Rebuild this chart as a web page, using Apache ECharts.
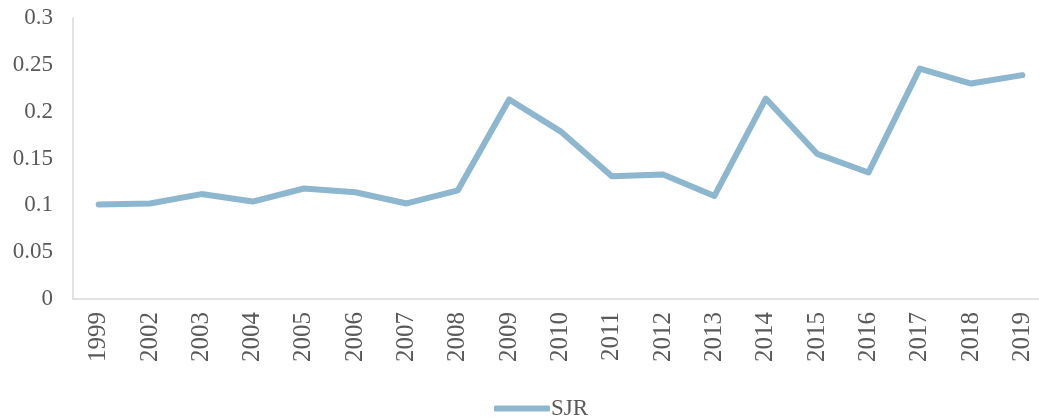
<!DOCTYPE html>
<html>
<head>
<meta charset="utf-8">
<script src="https://cdn.jsdelivr.net/npm/echarts@6/dist/echarts.min.js"></script>
<style>
    html, body {margin: 0; padding: 0; background: #fff;}
    #chart1 {width: 1039px; height: 419px;}
</style>
</head>
<body>
<div id="chart1"></div>
<script>
const years = ['1999', '2002', '2003', '2004', '2005', '2006', '2007', '2008', '2009', '2010',
    '2011', '2012', '2013', '2014', '2015', '2016', '2017', '2018', '2019'];
const sjr = [0.101, 0.102, 0.112, 0.104, 0.118, 0.114, 0.102, 0.116, 0.213, 0.179,
    0.131, 0.133, 0.110, 0.214, 0.155, 0.135, 0.246, 0.230, 0.239];

const font = '"Liberation Serif", "Times New Roman", serif';
const chart1 = echarts.init(document.getElementById('chart1'));
chart1.setOption({
    animation: false,
    grid: {left: 73, width: 975, top: 18, height: 281, outerBoundsMode: 'none', containLabel: false},
    legend: {
        data: ['SJR'],
        left: 489,
        top: 392,
        icon: 'roundRect',
        itemWidth: 56,
        itemHeight: 6,
        itemGap: 0,
        textStyle: {fontFamily: font, fontSize: 23, color: '#595959', padding: [0, 0, 0, -4]}
    },
    xAxis: {
        type: 'category',
        data: years,
        axisLine: {lineStyle: {color: '#d9d9d9', width: 1.5}},
        axisTick: {show: false},
        axisLabel: {
            rotate: 90,
            interval: 0,
            margin: 13,
            fontFamily: font,
            fontSize: 25,
            color: '#595959'
        }
    },
    yAxis: {
        type: 'value',
        min: 0,
        max: 0.3,
        interval: 0.05,
        axisLine: {show: true, lineStyle: {color: '#d9d9d9', width: 1.5}},
        axisTick: {show: false},
        splitLine: {show: false},
        axisLabel: {
            margin: 20,
            fontFamily: font,
            fontSize: 23,
            color: '#595959',
            formatter: v => String(Math.round(v * 100) / 100)
        }
    },
    series: [
        {
            name: 'SJR',
            type: 'line',
            data: sjr,
            symbol: 'none',
            lineStyle: {color: '#8db6cf', width: 6, cap: 'round', join: 'round'},
            itemStyle: {color: '#8db6cf'}
        }
    ]
});
</script>
</body>
</html>
